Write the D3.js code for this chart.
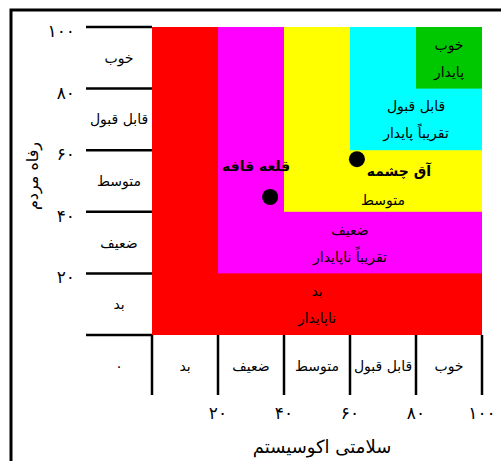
<!DOCTYPE html>
<html><head><meta charset="utf-8">
<script src="https://cdn.jsdelivr.net/npm/d3@7/dist/d3.min.js"></script>
<style>body{margin:0;background:#fff}svg{display:block}text{font-family:"DejaVu Sans",sans-serif;fill:#000}</style>
</head><body><div id="chart"></div>
<script>
// ---- data ----
const tickValues = [0, 20, 40, 60, 80, 100];
const tickLabels = ["", "۲۰", "۴۰", "۶۰", "۸۰", "۱۰۰"];
const bandLabels = ["بد", "ضعیف", "متوسط", "قابل قبول", "خوب"];
const cornerLabel = "۰";
const zoneStarts = [0, 20, 40, 60, 80];
const zoneColors = ["#ff0000", "#ff00ff", "#ffff00", "#00ffff", "#00c800"];
const zoneLine1 = ["بد", "ضعیف", "", "قابل قبول", "خوب"];
const zoneLine2 = ["ناپایدار", "تقریباً ناپایدار", "متوسط", "تقریباً پایدار", "پایدار"];
const pointNames = ["قلعه قافه", "آق چشمه"];
const pointX = [35.8, 62.1];
const pointY = [44.8, 57.1];
const xTitle = "سلامتی اکوسیستم";
const yTitle = "رفاه مردم";

const W = 501, H = 461;
const svg = d3.select("#chart").append("svg").attr("width", W).attr("height", H);
const x = d3.scaleLinear().domain([0, 100]).range([152, 482]);
const y = d3.scaleLinear().domain([0, 100]).range([335, 27]);

// outer frame (clipped by window)
svg.append("rect").attr("x", 11).attr("y", 10).attr("width", 700).attr("height", 700)
  .attr("fill", "none").attr("stroke", "#000").attr("stroke-width", 3);

// zones
svg.selectAll("rect.zone").data(zoneStarts).enter().append("rect")
  .attr("x", d => x(d)).attr("y", y(100))
  .attr("width", d => x(100) - x(d)).attr("height", d => y(d) - y(100))
  .attr("fill", (d, i) => zoneColors[i]);

// zone labels
zoneStarts.forEach((s, i) => {
  const cx = x((s + 100) / 2);
  const top = y(i < zoneStarts.length - 1 ? zoneStarts[i + 1] : 100);
  const bot = y(s);
  const cy = (top + bot) / 2;
  if (zoneLine1[i]) {
    svg.append("text").attr("x", cx).attr("y", cy - 13).attr("dy", "0.35em")
      .attr("text-anchor", "middle").attr("font-size", 14).text(zoneLine1[i]);
    svg.append("text").attr("x", cx).attr("y", cy + 14).attr("dy", "0.35em")
      .attr("text-anchor", "middle").attr("font-size", 14).text(zoneLine2[i]);
  } else {
    svg.append("text").attr("x", cx).attr("y", cy + 19).attr("dy", "0.35em")
      .attr("text-anchor", "middle").attr("font-size", 14).text(zoneLine2[i]);
  }
});

// left band grid lines
svg.selectAll("line.hb").data(tickValues).enter().append("line")
  .attr("x1", 86).attr("x2", x(0)).attr("y1", d => y(d)).attr("y2", d => y(d))
  .attr("stroke", "#000").attr("stroke-width", 2.5);
// bottom band grid lines
svg.selectAll("line.vb").data(tickValues).enter().append("line")
  .attr("x1", d => x(d)).attr("x2", d => x(d)).attr("y1", y(0)).attr("y2", 395)
  .attr("stroke", "#000").attr("stroke-width", 2.5);

// band labels
bandLabels.forEach((t, i) => {
  svg.append("text").attr("x", 119).attr("y", (y(tickValues[i]) + y(tickValues[i + 1])) / 2)
    .attr("dy", "0.35em").attr("text-anchor", "middle").attr("font-size", 14).text(t);
  svg.append("text").attr("x", (x(tickValues[i]) + x(tickValues[i + 1])) / 2).attr("y", 366)
    .attr("dy", "0.35em").attr("text-anchor", "middle").attr("font-size", 14).text(t);
});
svg.append("text").attr("x", 119).attr("y", 366).attr("dy", "0.35em")
  .attr("text-anchor", "middle").attr("font-size", 14).text(cornerLabel);

// tick labels
tickValues.forEach((v, i) => {
  if (!tickLabels[i]) return;
  svg.append("text").attr("x", 75).attr("y", y(v) + 4).attr("dy", "0.35em")
    .attr("text-anchor", "end").attr("font-size", 17).text(tickLabels[i]);
  svg.append("text").attr("x", x(v)).attr("y", 413).attr("dy", "0.35em")
    .attr("text-anchor", "middle").attr("font-size", 17).text(tickLabels[i]);
});

// axis titles
svg.append("text").attr("x", 322).attr("y", 447).attr("dy", "0.35em")
  .attr("text-anchor", "middle").attr("font-size", 18).text(xTitle);
svg.append("text").attr("transform", "translate(32,176) rotate(-90)").attr("dy", "0.35em")
  .attr("text-anchor", "middle").attr("font-size", 16).text(yTitle);

// points
svg.selectAll("circle.pt").data(pointNames).enter().append("circle")
  .attr("cx", (d, i) => x(pointX[i])).attr("cy", (d, i) => y(pointY[i])).attr("r", 8).attr("fill", "#000");
const labelDx = [-14, 42];
const labelDy = [-31, 12];
pointNames.forEach((n, i) => {
  svg.append("text").attr("x", x(pointX[i]) + labelDx[i]).attr("y", y(pointY[i]) + labelDy[i])
    .attr("dy", "0.35em").attr("text-anchor", "middle").attr("font-size", 14)
    .attr("font-weight", "bold").text(n);
});
</script></body></html>
